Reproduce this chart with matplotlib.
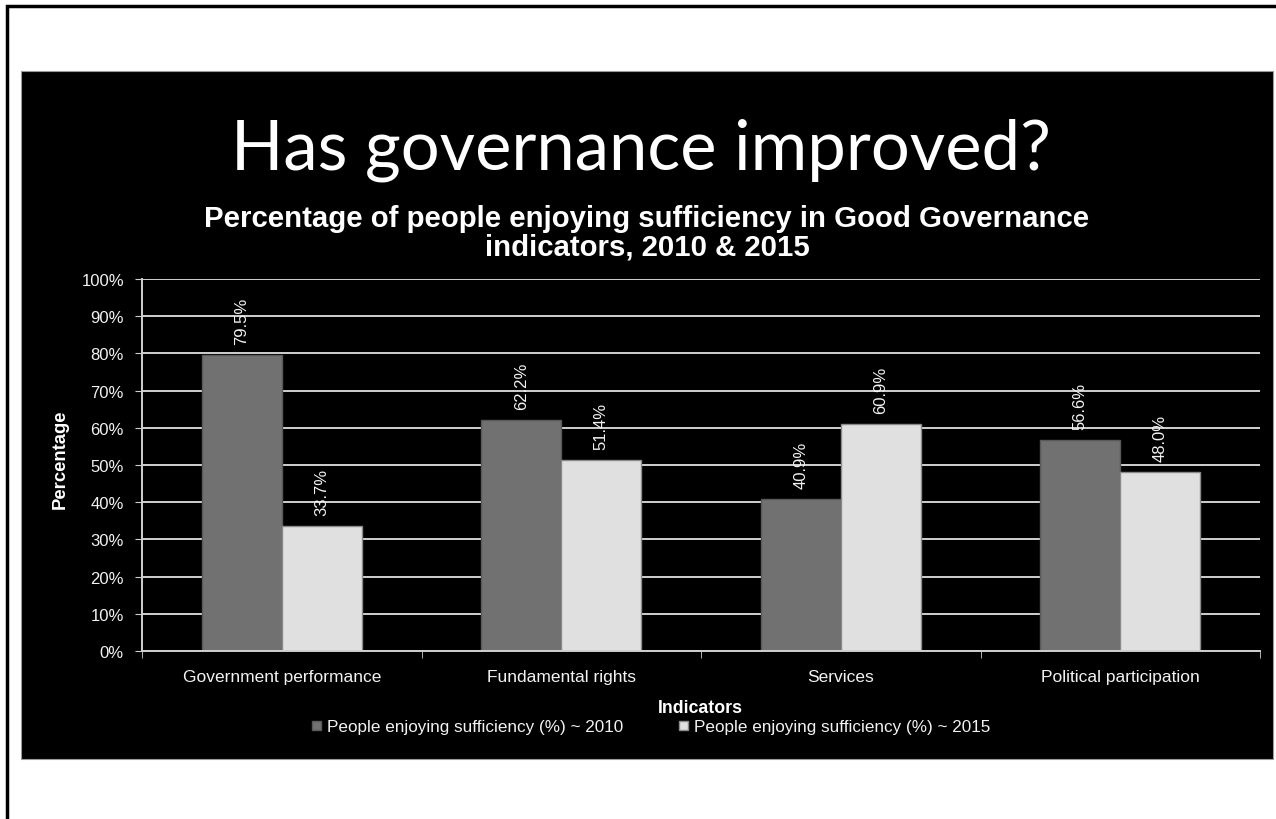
import matplotlib
matplotlib.use("Agg")
import matplotlib.pyplot as plt
from matplotlib.patches import Rectangle
from matplotlib.ticker import PercentFormatter, FixedLocator

# Data
categories = ["Government performance", "Fundamental rights", "Services", "Political participation"]
values_2010 = [79.5, 62.2, 40.9, 56.6]
values_2015 = [33.7, 51.4, 60.9, 48.0]
series_names = ["People enjoying sufficiency (%) ~ 2010", "People enjoying sufficiency (%) ~ 2015"]
y_ticks = [0, 10, 20, 30, 40, 50, 60, 70, 80, 90, 100]

W, H = 1276, 820
fig = plt.figure(figsize=(W / 100, H / 100), dpi=100)
fig.patch.set_facecolor("white")

# outer frame and black slide panel (drawn under the axes)
fig.patches.append(Rectangle((7 / W, -0.01), 1.1, 1 - 7 / H + 0.01, transform=fig.transFigure,
                             fill=False, edgecolor="black", linewidth=2.5, zorder=-2))
fig.patches.append(Rectangle((21 / W, 1 - 760 / H), (1273 - 21) / W, (760 - 72) / H,
                             transform=fig.transFigure, facecolor="black",
                             edgecolor="#9a9a9a", linewidth=0.8, zorder=-1))

sans = "Liberation Sans"
txt = "#f2f2f2"

fig.text(641 / W, 1 - 170 / H, "Has governance improved?", family="Lato", fontsize=49.5,
         color="white", ha="center", va="baseline")
fig.text(647 / W, 1 - 227 / H, "Percentage of people enjoying sufficiency in Good Governance",
         family=sans, fontsize=21.2, fontweight="bold", color="white", ha="center", va="baseline")
fig.text(647 / W, 1 - 256 / H, "indicators, 2010 & 2015",
         family=sans, fontsize=21.2, fontweight="bold", color="white", ha="center", va="baseline")

ax = fig.add_axes([142 / W, 1 - 652 / H, (1260 - 142) / W, (652 - 280) / H])
ax.set_facecolor("black")

x = list(range(len(categories)))
w = 80 / 279.5
b1 = ax.bar([i - w / 2 for i in x], values_2010, width=w, color="#717171",
            edgecolor="#595959", linewidth=1, zorder=3, label=series_names[0])
b2 = ax.bar([i + w / 2 for i in x], values_2015, width=w, color="#e0e0e0",
            edgecolor="#8a8a8a", linewidth=1, zorder=3, label=series_names[1])

for bars, vals in ((b1, values_2010), (b2, values_2015)):
    for rect, v in zip(bars, vals):
        ax.annotate(f"{v:.1f}%", (rect.get_x() + rect.get_width() / 2, v),
                    xytext=(0, 8), textcoords="offset points", rotation=90,
                    ha="center", va="bottom", color=txt, family=sans, fontsize=12, zorder=5)

ax.set_xlim(-0.5, len(categories) - 0.5)
ax.set_ylim(0, 100)
ax.set_yticks(y_ticks)
ax.yaxis.set_major_formatter(PercentFormatter(decimals=0))
ax.grid(axis="y", color="#d0d0d0", linewidth=1.4, zorder=1)

ax.set_xticks(x)
ax.set_xticklabels(categories)
ax.xaxis.set_minor_locator(FixedLocator([i - 0.5 for i in range(len(categories) + 1)]))
ax.tick_params(axis="x", which="major", length=0, pad=13, colors=txt, labelsize=12.5)
ax.tick_params(axis="x", which="minor", length=5, color="#d0d0d0", direction="out")
ax.tick_params(axis="y", length=5, color="#d0d0d0", colors=txt, labelsize=12, pad=8)
for lab in ax.get_xticklabels() + ax.get_yticklabels():
    lab.set_family(sans)
    lab.set_color(txt)

for s in ("top", "right"):
    ax.spines[s].set_visible(False)
for s in ("left", "bottom"):
    ax.spines[s].set_color("#d0d0d0")
    ax.spines[s].set_linewidth(1.4)
    ax.spines[s].set_zorder(4)

fig.text(60 / W, 1 - 459 / H, "Percentage", family=sans, fontsize=13.3, fontweight="bold",
         color="white", rotation=90, ha="center", va="center")
fig.text(700 / W, 1 - 709 / H, "Indicators", family=sans, fontsize=12.8, fontweight="bold",
         color="white", ha="center", va="center")

leg = fig.legend(handles=[b1, b2], loc="center", bbox_to_anchor=(651 / W, 1 - 728 / H),
                 ncol=2, frameon=False, handlelength=0.5, handleheight=0.5,
                 handletextpad=0.35, columnspacing=3.3, borderpad=0,
                 prop={"family": sans, "size": 12.3})
for t in leg.get_texts():
    t.set_color(txt)

fig.savefig("out.png", dpi=100, facecolor="white")
